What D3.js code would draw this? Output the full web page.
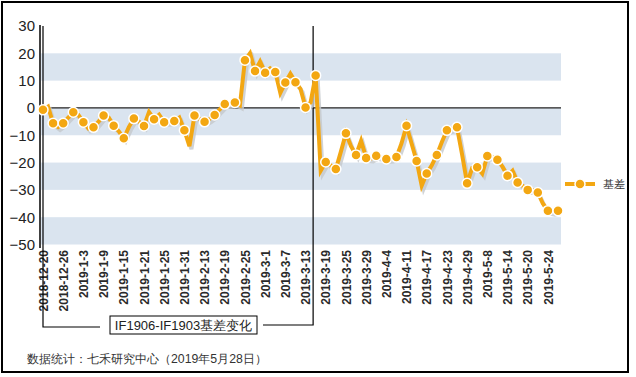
<!DOCTYPE html>
<html>

<head>
    <meta charset="UTF-8">
    <title>IF1906-IF1903基差变化</title>
    <script src="https://d3js.org/d3.v7.min.js"></script>
    <style>
        body {
            margin: 0;
            background: #fff;
        }
    </style>
</head>

<body>
    <script>
        // trading days (categories)
        var dates = [
            "2018-12-20", "2018-12-21", "2018-12-24", "2018-12-25", "2018-12-26", "2018-12-27", "2018-12-28",
            "2019-1-2", "2019-1-3", "2019-1-4", "2019-1-7", "2019-1-8", "2019-1-9", "2019-1-10", "2019-1-11",
            "2019-1-14", "2019-1-15", "2019-1-16", "2019-1-17", "2019-1-18", "2019-1-21", "2019-1-22", "2019-1-23",
            "2019-1-24", "2019-1-25", "2019-1-28", "2019-1-29", "2019-1-30", "2019-1-31", "2019-2-1",
            "2019-2-11", "2019-2-12", "2019-2-13", "2019-2-14", "2019-2-15", "2019-2-18", "2019-2-19", "2019-2-20",
            "2019-2-21", "2019-2-22", "2019-2-25", "2019-2-26", "2019-2-27", "2019-2-28",
            "2019-3-1", "2019-3-4", "2019-3-5", "2019-3-6", "2019-3-7", "2019-3-8", "2019-3-11", "2019-3-12",
            "2019-3-13", "2019-3-14", "2019-3-15", "2019-3-18", "2019-3-19", "2019-3-20", "2019-3-21", "2019-3-22",
            "2019-3-25", "2019-3-26", "2019-3-27", "2019-3-28", "2019-3-29",
            "2019-4-1", "2019-4-2", "2019-4-3", "2019-4-4", "2019-4-8", "2019-4-9", "2019-4-10", "2019-4-11",
            "2019-4-12", "2019-4-15", "2019-4-16", "2019-4-17", "2019-4-18", "2019-4-19", "2019-4-22", "2019-4-23",
            "2019-4-24", "2019-4-25", "2019-4-26", "2019-4-29", "2019-4-30",
            "2019-5-6", "2019-5-7", "2019-5-8", "2019-5-9", "2019-5-10", "2019-5-13", "2019-5-14", "2019-5-15",
            "2019-5-16", "2019-5-17", "2019-5-20", "2019-5-21", "2019-5-22", "2019-5-23", "2019-5-24",
            "2019-5-27", "2019-5-28"
        ];

        // 基差 (IF1906 - IF1903)
        var basis = [
            -0.7, 0.5, -5.6, -7, -5.6, -3.5, -1.6, -2.5, -5.2, -7.5,
            -7.1, -5, -2.8, -3.5, -6.5, -8.5, -11.1, -7, -3.9, -5,
            -6.6, -1.5, -4.1, -2.5, -5.2, -5, -4.8, -3.5, -8.2, -14,
            -2.8, -4, -5.1, -4, -2.6, -0.5, 1.4, 1.5, 2, 1,
            17.5, 20, 13.5, 17, 12.9, 14.5, 13.2, 5.5, 9.3, 12.5,
            9.4, 7, 0.2, 2, 11.9, -23, -19.8, -21, -22.4, -16,
            -9.3, -14, -17.2, -12, -18.3, -18.5, -17.5, -18, -18.7, -18.5,
            -18, -13, -6.5, -13, -19.4, -28.5, -24, -21, -17.2, -12.5,
            -8.2, -7.5, -7.1, -17, -27.6, -22, -21.7, -24, -17.6, -18,
            -19, -21.5, -24.8, -23, -27.3, -28.5, -30, -30, -31, -35,
            -37.6, -38, -37.6
        ];

        var yTicks = [30, 20, 10, 0, -10, -20, -30, -40, -50];
        var bands = [[10, 20], [-10, 0], [-30, -20], [-50, -40]];
        var seriesName = "基差";
        var bracketLabel = "IF1906-IF1903基差变化";
        var sourceText = "数据统计：七禾研究中心（2019年5月28日）";

        var width = 636;
        var height = 377;
        var orange = "#f3a712";

        var svg = d3.select("body").append("svg")
            .attr("width", width).attr("height", height)
            .style("font-family", "Arial, 'Liberation Sans', sans-serif");

        // outer frame
        svg.append("rect")
            .attr("x", 2).attr("y", 2).attr("width", 626).attr("height", 370)
            .attr("fill", "#fff").attr("stroke", "#000").attr("stroke-width", 2);

        var x = d3.scalePoint().domain(d3.range(dates.length)).range([43, 558]);
        var y = d3.scaleLinear().domain([-50, 30]).range([244.5, 26]);

        var plotLeft = 41, plotRight = 561;

        // light blue bands
        svg.selectAll(".band").data(bands).enter().append("rect")
            .attr("class", "band")
            .attr("x", plotLeft).attr("width", plotRight - plotLeft)
            .attr("y", function (d) { return y(d[1]); })
            .attr("height", function (d) { return y(d[0]) - y(d[1]); })
            .attr("fill", "#dae4ef");

        // zero line
        svg.append("line")
            .attr("x1", 40).attr("x2", plotRight)
            .attr("y1", y(0)).attr("y2", y(0))
            .attr("stroke", "#222").attr("stroke-width", 1.2);

        // y axis
        var yAxis = d3.axisLeft(y).tickValues(yTicks).tickSize(0).tickPadding(5);
        var gy = svg.append("g").attr("transform", "translate(40,0)").call(yAxis);
        gy.select(".domain").remove();
        gy.selectAll("text").attr("font-size", 15).attr("fill", "#222")
            .attr("font-family", "Arial, 'Liberation Sans', sans-serif");
        svg.append("line")
            .attr("x1", 40).attr("x2", 40).attr("y1", 25).attr("y2", 248)
            .attr("stroke", "#000").attr("stroke-width", 1.5);

        // x axis labels (every 4th trading day)
        var labelIdx = d3.range(0, dates.length, 4);
        var xAxis = d3.axisBottom(x).tickValues(labelIdx).tickSize(0)
            .tickFormat(function (i) { return dates[i]; });
        var gx = svg.append("g").attr("transform", "translate(0,248)").call(xAxis);
        gx.select(".domain").remove();
        gx.selectAll("text")
            .attr("font-size", 12).attr("font-weight", "bold").attr("fill", "#2a2a2a")
            .attr("font-family", "Arial, 'Liberation Sans', sans-serif")
            .attr("transform", "rotate(-90)")
            .attr("text-anchor", "end")
            .attr("x", -2).attr("y", 0).attr("dy", "0.35em");

        // bracket marking the period shown
        var splitX = (x(53) + x(54)) / 2;
        var bracket = svg.append("g").attr("fill", "none").attr("stroke", "#000").attr("stroke-width", 1.2);
        bracket.append("polyline")
            .attr("points", [[43, 26], [43, 327], [100, 327]].join(" "));
        bracket.append("polyline")
            .attr("points", [[splitX, 26], [splitX, 325], [263, 325]].join(" "));
        svg.append("rect")
            .attr("x", 110).attr("y", 316).attr("width", 147).attr("height", 18)
            .attr("fill", "#fff").attr("stroke", "#000").attr("stroke-width", 1);
        svg.append("text")
            .attr("x", 183.5).attr("y", 330)
            .attr("text-anchor", "middle").attr("font-size", 13).attr("fill", "#222")
            .text(bracketLabel);

        // series
        var line = d3.line()
            .x(function (d, i) { return x(i); })
            .y(function (d) { return y(d); });

        svg.append("path").datum(basis)
            .attr("d", line)
            .attr("transform", "translate(2,3)")
            .attr("fill", "none").attr("stroke", "#c4c8cc").attr("stroke-width", 4)
            .attr("stroke-linejoin", "miter").attr("opacity", 0.8);

        svg.append("path").datum(basis)
            .attr("d", line)
            .attr("fill", "none").attr("stroke", orange).attr("stroke-width", 4)
            .attr("stroke-linejoin", "miter");

        var markIdx = d3.range(0, basis.length, 2);
        svg.selectAll(".dot").data(markIdx).enter().append("circle")
            .attr("class", "dot")
            .attr("cx", function (i) { return x(i); })
            .attr("cy", function (i) { return y(basis[i]); })
            .attr("r", 5)
            .attr("fill", orange).attr("stroke", "#fff").attr("stroke-width", 1.5);

        // legend
        var lg = svg.append("g").attr("transform", "translate(565,184)");
        lg.append("line").attr("x1", 0).attr("x2", 30).attr("y1", 0).attr("y2", 0)
            .attr("stroke", orange).attr("stroke-width", 4);
        lg.append("circle").attr("cx", 15).attr("cy", 0).attr("r", 5)
            .attr("fill", orange).attr("stroke", "#fff").attr("stroke-width", 1.5);
        lg.append("text").attr("x", 38).attr("y", 0).attr("dy", "0.35em")
            .attr("font-size", 11).attr("fill", "#333").text(seriesName);

        // source note
        svg.append("text")
            .attr("x", 27).attr("y", 363)
            .attr("font-size", 12.3).attr("fill", "#333")
            .text(sourceText);
    </script>
</body>

</html>
